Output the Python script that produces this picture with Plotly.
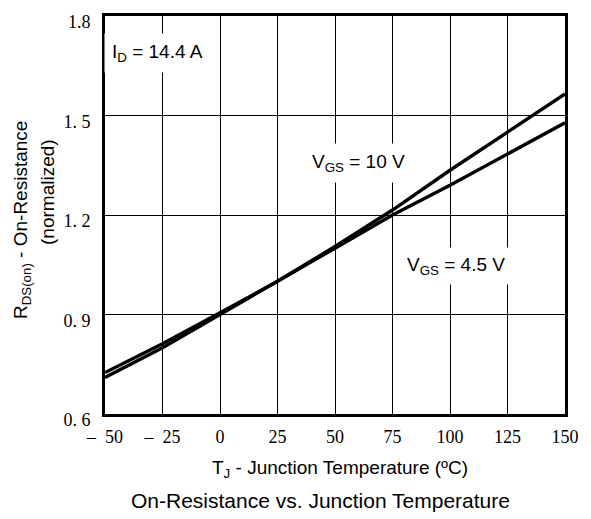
import plotly.graph_objects as go

temps = [-50, -25, 0, 25, 50, 75, 100, 125, 150]
r_vgs10 = [0.71, 0.80, 0.90, 1.00, 1.105, 1.215, 1.335, 1.45, 1.565]
r_vgs45 = [0.725, 0.812, 0.905, 1.00, 1.10, 1.20, 1.29, 1.385, 1.478]

x_ticks = [-50, -25, 0, 25, 50, 75, 100, 125, 150]
x_ticktext = ["\u2013\u00a0\u00a050", "\u2013\u00a0\u00a025", "0", "25", "50", "75", "100", "125", "150"]
y_ticks = [0.6, 0.9, 1.2, 1.5, 1.8]
y_ticktext = ["0.\u00a06", "0.\u00a09", "1.\u00a02", "1.\u00a05", "1.8"]

W, H = 591, 519
ML, MR, MT, MB = 105, 20, 12, 105
PW, PH = W - ML - MR, H - MT - MB

fig = go.Figure()
fig.add_trace(go.Scatter(x=temps, y=r_vgs10, mode="lines",
                         line=dict(color="black", width=3.4), showlegend=False))
fig.add_trace(go.Scatter(x=temps, y=r_vgs45, mode="lines",
                         line=dict(color="black", width=3.4), showlegend=False))

sans = "Liberation Sans, Arial, sans-serif"
serif = "Liberation Serif, Times New Roman, serif"

def px_x(p):
    return (p - ML) / PW

def px_y(p):
    return (H - MB - p) / PH

common = dict(showarrow=False, xanchor="center", yanchor="middle")
annotations = [
    dict(x=-27.3, y=1.687, xref="x", yref="y", text="I<sub>D</sub> = 14.4 A",
         font=dict(family=sans, size=19, color="black"),
         bgcolor="white", borderpad=7, **common),
    dict(x=60.1, y=1.358, xref="x", yref="y", text="V<sub>GS</sub> = 10 V",
         font=dict(family=sans, size=19, color="black"),
         bgcolor="white", borderpad=7, **common),
    dict(x=102.4, y=1.045, xref="x", yref="y", text="V<sub>GS</sub> = 4.5 V",
         font=dict(family=sans, size=19, color="black"),
         bgcolor="white", borderpad=6, **common),
    dict(x=px_x(21), y=px_y(218), xref="paper", yref="paper",
         text="R<sub>DS(on)</sub> - On-Resistance", textangle=-90,
         font=dict(family=sans, size=19, color="black"), **common),
    dict(x=px_x(46), y=px_y(190), xref="paper", yref="paper",
         text="(normalized)", textangle=-90,
         font=dict(family=sans, size=19, color="black"), **common),
    dict(x=px_x(343), y=px_y(470), xref="paper", yref="paper",
         text="T<sub>J</sub> - Junction Temperature (ºC)",
         font=dict(family=sans, size=19, color="black"), **common),
    dict(x=px_x(323), y=px_y(501), xref="paper", yref="paper",
         text="On-Resistance vs. Junction Temperature",
         font=dict(family=sans, size=21, color="black"), **common),
]

fig.update_layout(
    width=W, height=H,
    margin=dict(l=ML, r=MR, t=MT, b=MB, pad=0),
    paper_bgcolor="white", plot_bgcolor="white",
    annotations=annotations,
    showlegend=False,
)
fig.update_xaxes(range=[-50, 150], tickvals=x_ticks, ticktext=x_ticktext,
                 showgrid=True, gridcolor="black", gridwidth=1.3,
                 showline=True, linecolor="black", linewidth=3, mirror=True,
                 ticks="", zeroline=False, ticklabelstandoff=4,
                 ticklabeloverflow="allow",
                 tickfont=dict(family=serif, size=18, color="black"))
fig.update_yaxes(range=[0.6, 1.8], tickvals=y_ticks, ticktext=y_ticktext,
                 showgrid=True, gridcolor="black", gridwidth=1.3,
                 showline=True, linecolor="black", linewidth=3, mirror=True,
                 ticks="", zeroline=False, ticklabelstandoff=8,
                 ticklabelshift=6, ticklabeloverflow="allow",
                 tickfont=dict(family=serif, size=18, color="black"))

fig.write_html("out.html")
